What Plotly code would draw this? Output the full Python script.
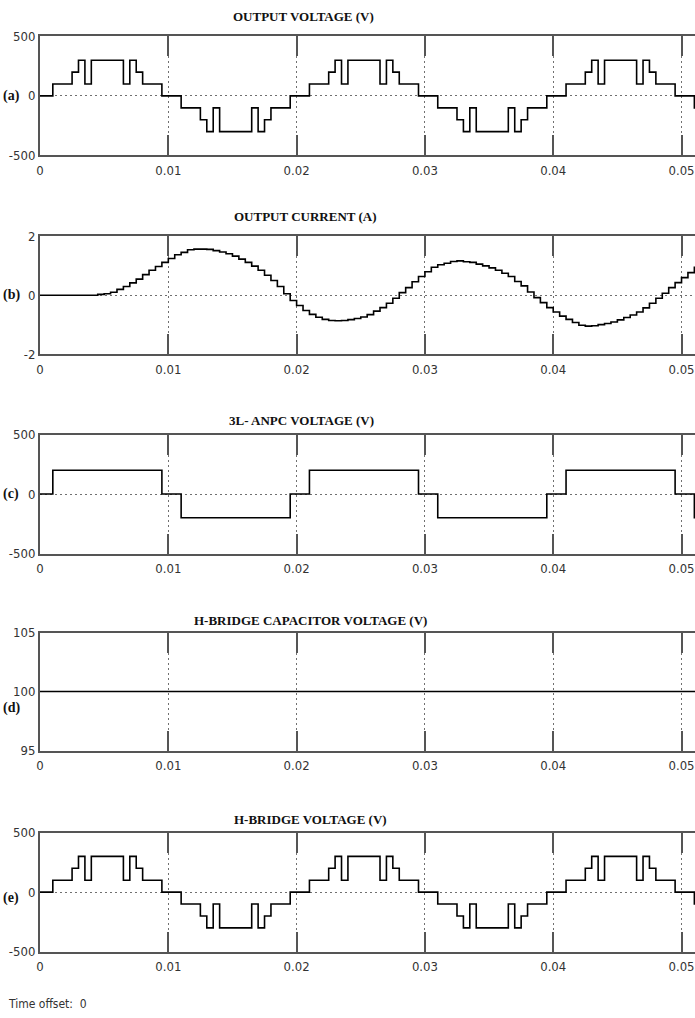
import numpy as np
import plotly.graph_objects as go

# ---------------- data ----------------
# Output voltage (a) / H-bridge voltage (e): step change times (s) and levels (V)
vout_t = [0.0, 0.001, 0.0025, 0.003, 0.0035, 0.004, 0.0065, 0.007, 0.0075, 0.008, 0.0095,
          0.011, 0.0125, 0.013, 0.0135, 0.014, 0.0165, 0.017, 0.0175, 0.018, 0.0195,
          0.021, 0.0225, 0.023, 0.0235, 0.024, 0.0265, 0.027, 0.0275, 0.028, 0.0295,
          0.031, 0.0325, 0.033, 0.0335, 0.034, 0.0365, 0.037, 0.0375, 0.038, 0.0395,
          0.041, 0.0425, 0.043, 0.0435, 0.044, 0.0465, 0.047, 0.0475, 0.048, 0.0495,
          0.051, 0.0515]
vout_v = [0, 100, 200, 300, 100, 300, 100, 300, 200, 100, 0,
          -100, -200, -300, -100, -300, -100, -300, -200, -100, 0,
          100, 200, 300, 100, 300, 100, 300, 200, 100, 0,
          -100, -200, -300, -100, -300, -100, -300, -200, -100, 0,
          100, 200, 300, 100, 300, 100, 300, 200, 100, 0,
          -100, -100]

# Output current (b): sampled every 0.5 ms (A)
current_a = [0, 0, 0, 0, 0, 0, 0, 0, 0, 0.03,
             0.05, 0.10, 0.20, 0.30, 0.42, 0.55, 0.70, 0.85, 0.98, 1.12,
             1.25, 1.38, 1.46, 1.55, 1.57, 1.57, 1.56, 1.52, 1.47, 1.41,
             1.33, 1.23, 1.12, 0.99, 0.85, 0.68, 0.50, 0.30, 0.05, -0.18,
             -0.35, -0.52, -0.65, -0.75, -0.82, -0.86, -0.87, -0.86, -0.83, -0.79,
             -0.74, -0.66, -0.54, -0.42, -0.27, -0.10, 0.09, 0.26, 0.46, 0.64,
             0.80, 0.95, 1.04, 1.09, 1.15, 1.17, 1.14, 1.12, 1.06, 1.00,
             0.93, 0.85, 0.75, 0.64, 0.47, 0.32, 0.11, -0.08, -0.25, -0.42,
             -0.57, -0.71, -0.82, -0.93, -1.02, -1.05, -1.04, -1.00, -0.96, -0.91,
             -0.84, -0.76, -0.67, -0.57, -0.43, -0.27, -0.10, 0.07, 0.26, 0.43,
             0.60, 0.77, 0.95, 1.05]
current_step = 0.0005

# 3L-ANPC voltage (c)
anpc_t = [0.0, 0.001, 0.0095, 0.011, 0.0195, 0.021, 0.0295, 0.031, 0.0395, 0.041, 0.0495, 0.051, 0.0515]
anpc_v = [0, 200, 0, -200, 0, 200, 0, -200, 0, 200, 0, -200, -200]

# H-bridge capacitor voltage (d)
cap_t = [0.0, 0.0515]
cap_v = [100, 100]

# H-bridge voltage (e)
hb_t = list(vout_t)
hb_v = list(vout_v)

x_ticks = [0, 0.01, 0.02, 0.03, 0.04, 0.05]
x_labels = ["0", "0.01", "0.02", "0.03", "0.04", "0.05"]

titles = ["OUTPUT VOLTAGE (V)", "OUTPUT CURRENT (A)", "3L- ANPC VOLTAGE (V)",
          "H-BRIDGE CAPACITOR VOLTAGE (V)", "H-BRIDGE VOLTAGE (V)"]
panel_tags = ["(a)", "(b)", "(c)", "(d)", "(e)"]
y_ticks = [[-500, 0, 500], [-2, 0, 2], [-500, 0, 500], [95, 100, 105], [-500, 0, 500]]
y_labels = [["-500", "0", "500"], ["-2", "0", "2"], ["-500", "0", "500"],
            ["95", "100", "105"], ["-500", "0", "500"]]
y_ranges = [[-500, 500], [-2, 2], [-500, 500], [95, 105], [-500, 500]]

# ---------------- layout geometry (pixels, figure coordinates) ----------------
W, H = 695, 1018
panel_px = [(29.8, 150.7), (232.9, 352.2), (433.9, 554.7), (634.9, 754.7), (837.9, 958.8)]
title_y_px = [10.1, 213.1, 419.2, 622.2, 824.3]
title_x_px = [303, 305, 301, 310, 310]
tag_y_px = [90.8, 291.8, 493.8, 711.1, 903.9]
time_offset_y_px = 1012

series = [
    (vout_t, vout_v),
    (list(np.arange(len(current_a)) * current_step), current_a),
    (anpc_t, anpc_v),
    (cap_t, cap_v),
    (hb_t, hb_v),
]

tick_font = dict(family="Liberation Sans Narrow, DejaVu Sans Condensed, Arial Narrow, sans-serif",
                 size=13, color="#333333")
frame = "#555555"
serif = "Liberation Serif, Times New Roman, serif"

fig = go.Figure()
layout = dict(width=W, height=H, margin=dict(l=40, r=0, t=0, b=0),
              paper_bgcolor="white", plot_bgcolor="white", showlegend=False)
annotations = []
for i in range(5):
    n = "" if i == 0 else str(i + 1)
    xs, ys = series[i]
    fig.add_trace(go.Scatter(x=xs, y=ys, mode="lines", line=dict(color="black", width=1.6, shape="hv"),
                             xaxis="x" + n, yaxis="y" + n, hoverinfo="skip"))
    top, bot = panel_px[i]
    layout["xaxis" + n] = dict(
        domain=[0, 1], anchor="y" + n, range=[0, 0.05105],
        tickvals=x_ticks, ticktext=x_labels, ticks="inside", ticklen=20, tickwidth=2,
        tickcolor=frame, showline=True, linecolor=frame, linewidth=2, mirror="ticks",
        showgrid=True, gridcolor="#707070", griddash="2px,3px", gridwidth=1.3,
        zeroline=False, tickfont=tick_font, ticklabelstandoff=2,
        ticklabeloverflow="allow", fixedrange=True)
    layout["yaxis" + n] = dict(
        domain=[1 - bot / H, 1 - top / H], anchor="x" + n, range=y_ranges[i],
        tickvals=y_ticks[i], ticktext=y_labels[i], ticks="", showline=True,
        linecolor=frame, linewidth=2, mirror=False,
        showgrid=True, gridcolor="#707070", griddash="2px,3px", gridwidth=1.3,
        zeroline=False, tickfont=tick_font, ticklabelstandoff=0,
        ticklabeloverflow="allow", fixedrange=True)
    annotations.append(dict(text="<b>" + titles[i] + "</b>", xref="paper", yref="paper",
                            x=(title_x_px[i] - 40) / (W - 40), y=1 - title_y_px[i] / H,
                            xanchor="center", yanchor="middle", showarrow=False,
                            font=dict(family=serif, size=13, color="#111111")))
    annotations.append(dict(text="<b>" + panel_tags[i] + "</b>", xref="paper", yref="paper",
                            x=(11 - 40) / (W - 40), y=1 - tag_y_px[i] / H,
                            xanchor="center", yanchor="middle", showarrow=False,
                            font=dict(family=serif, size=14, color="#111111")))

annotations.append(dict(text="Time offset:  0", xref="paper", yref="paper",
                        x=(6 - 40) / (W - 40), y=1 - time_offset_y_px / H, xanchor="left", yanchor="middle",
                        showarrow=False,
                        font=dict(family="Liberation Sans Narrow, DejaVu Sans Condensed, sans-serif",
                                  size=12, color="#333333")))
layout["annotations"] = annotations
fig.update_layout(**layout)
fig.write_html("out.html", config={"displayModeBar": False})
